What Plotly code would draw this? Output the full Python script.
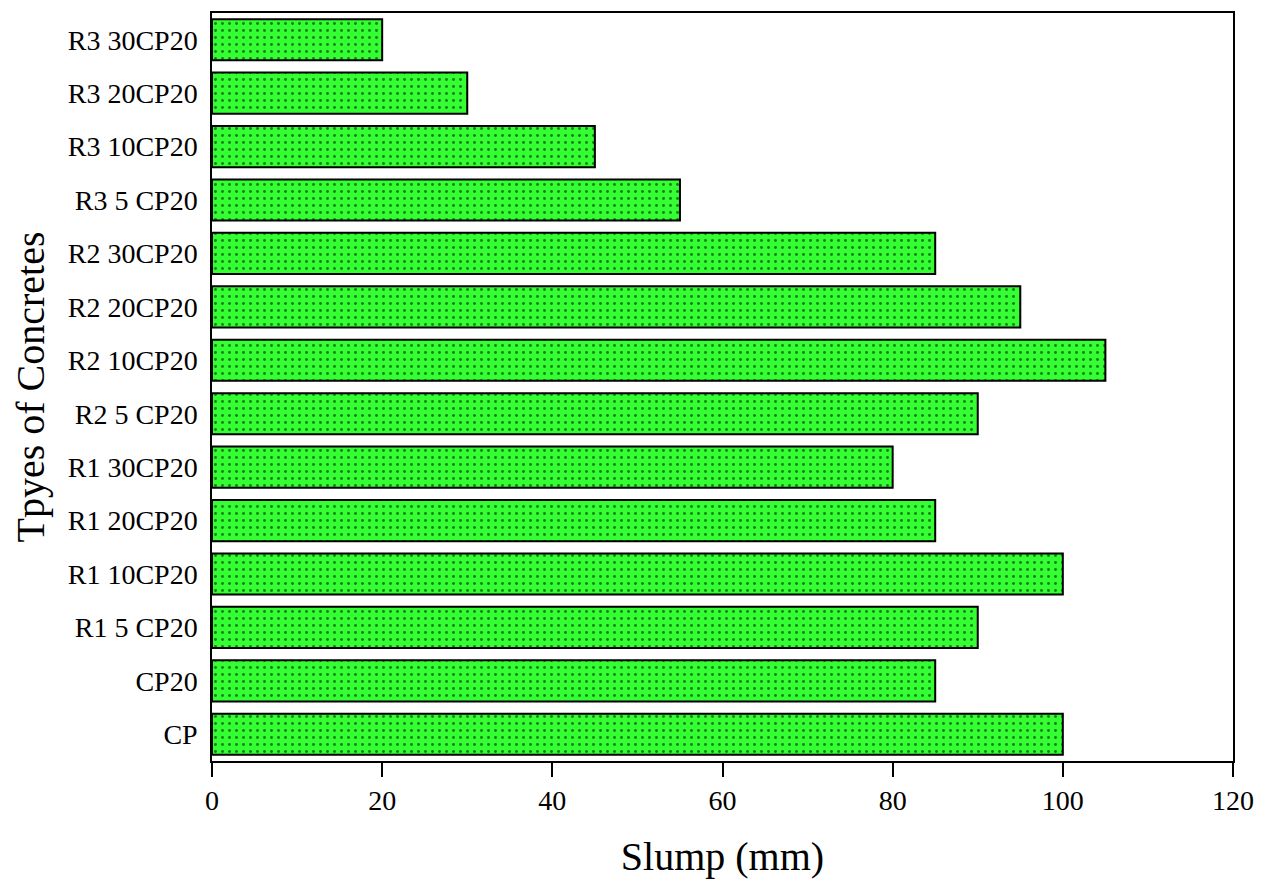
import plotly.graph_objects as go

categories = ["CP", "CP20", "R1 5 CP20", "R1 10CP20", "R1 20CP20", "R1 30CP20",
              "R2 5 CP20", "R2 10CP20", "R2 20CP20", "R2 30CP20",
              "R3 5 CP20", "R3 10CP20", "R3 20CP20", "R3 30CP20"]
slump = [100, 85, 90, 100, 85, 80, 90, 105, 95, 85, 55, 45, 30, 20]
x_ticks = [0, 20, 40, 60, 80, 100, 120]

fig = go.Figure(go.Bar(
    y=categories, x=slump, orientation="h",
    marker=dict(color="#33FF33",
                line=dict(color="black", width=2),
                pattern=dict(shape=".", fgcolor="black", bgcolor="#33FF33",
                             size=7, solidity=0.14, fillmode="overlay")),
))

font = "Liberation Serif, Times New Roman, serif"
fig.update_layout(
    width=1267, height=882,
    margin=dict(l=204, r=42, t=3, b=129),
    plot_bgcolor="white", paper_bgcolor="white",
    bargap=0.23,
    showlegend=False,
    font=dict(family=font, size=28, color="black"),
)
fig.update_xaxes(
    range=[0, 120], tickvals=x_ticks, ticks="outside", ticklen=14, tickwidth=1.5,
    tickcolor="black", showline=True, linecolor="black", linewidth=1.5, mirror=True,
    showgrid=False, zeroline=False,
    title=dict(text="Slump (mm)", font=dict(size=40, family=font), standoff=27),
    tickfont=dict(size=28, family=font),
)
fig.update_yaxes(
    categoryorder="array", categoryarray=categories,
    showline=True, linecolor="black", linewidth=1.5, mirror=True,
    showgrid=False, ticks="", ticklabelstandoff=7,
    title=dict(text="Tpyes of Concretes", font=dict(size=40, family=font), standoff=12),
    tickfont=dict(size=28, family=font),
)
fig.write_html("out.html")
